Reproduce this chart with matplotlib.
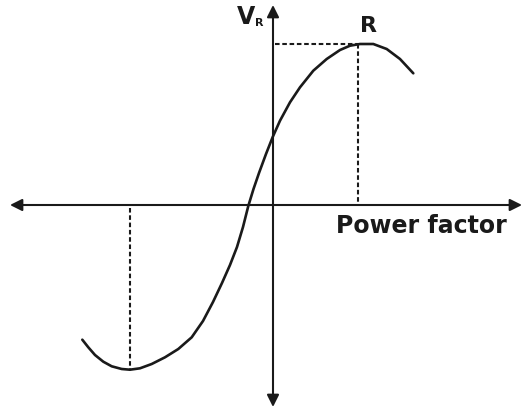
import matplotlib

matplotlib.use("Agg")
import matplotlib.pyplot as plt
import numpy as np

# curve (pixel coords, y grows downward)
curve_x = [82.3, 88.3, 95.0, 103.3, 111.7, 121.7, 130.0, 140.0, 151.7, 165.0,
           178.3, 191.7, 203.0, 213.0, 222.0, 230.0, 237.0, 243.0, 248.3, 253.5,
           259.0, 266.0, 272.7, 280.0, 290.0, 300.0, 313.3, 326.7, 340.0, 350.0,
           360.0, 373.3, 386.7, 400.0, 413.3]
curve_y = [340.7, 348.3, 356.0, 362.7, 367.3, 370.0, 370.7, 369.3, 365.0, 358.3,
           350.0, 338.3, 322.0, 303.0, 284.0, 266.0, 248.0, 228.0, 207.0, 190.0,
           174.0, 155.0, 138.0, 121.7, 103.3, 88.3, 71.7, 60.0, 51.0, 46.7,
           45.0, 45.0, 50.0, 60.0, 74.3]

x_label = "Power factor"
y_label = "V"
y_sub = "R"
peak_label = "R"

origin_x, origin_y = 273, 206

fig = plt.figure(figsize=(5.26, 4.10), dpi=100)
ax = fig.add_axes([0, 0, 1, 1])
ax.set_xlim(0, 526)
ax.set_ylim(410, 0)
ax.axis("off")

ink = "#1a1a1a"
arrow = dict(arrowstyle="<|-|>", color=ink, lw=1.5, mutation_scale=18,
             shrinkA=0, shrinkB=0)
ax.annotate("", xy=(522, origin_y), xytext=(10, origin_y), arrowprops=arrow)
ax.annotate("", xy=(origin_x, 6), xytext=(origin_x, 408), arrowprops=arrow)

ax.plot(curve_x, curve_y, color=ink, lw=1.9, solid_capstyle="round",
        solid_joinstyle="round")

# dashed guides to peak and trough
i_max = int(np.argmin(curve_y))
i_min = int(np.argmax(curve_y))
px, py = curve_x[i_max] - 1.7, curve_y[i_max]
mx, my = curve_x[i_min], curve_y[i_min]
dash = dict(color=ink, lw=1.5, ls=(0, (2.2, 1.3)))
ax.plot([px, px], [py, origin_y], **dash)
ax.plot([origin_x + 2, px], [py, py], **dash)
ax.plot([mx, mx], [origin_y + 3, my], **dash)

ax.text(246, 17, y_label, fontsize=17, fontweight="bold", ha="center", va="center",
        color=ink)
ax.text(259, 23, y_sub, fontsize=8, fontweight="bold", ha="center", va="center",
        color=ink)
ax.text(369, 26, peak_label, fontsize=16, fontweight="bold", ha="center", va="center",
        color=ink)
ax.text(421.5, 226, x_label, fontsize=17, fontweight="bold", ha="center", va="center",
        color=ink)

fig.savefig("out.png", dpi=100)
